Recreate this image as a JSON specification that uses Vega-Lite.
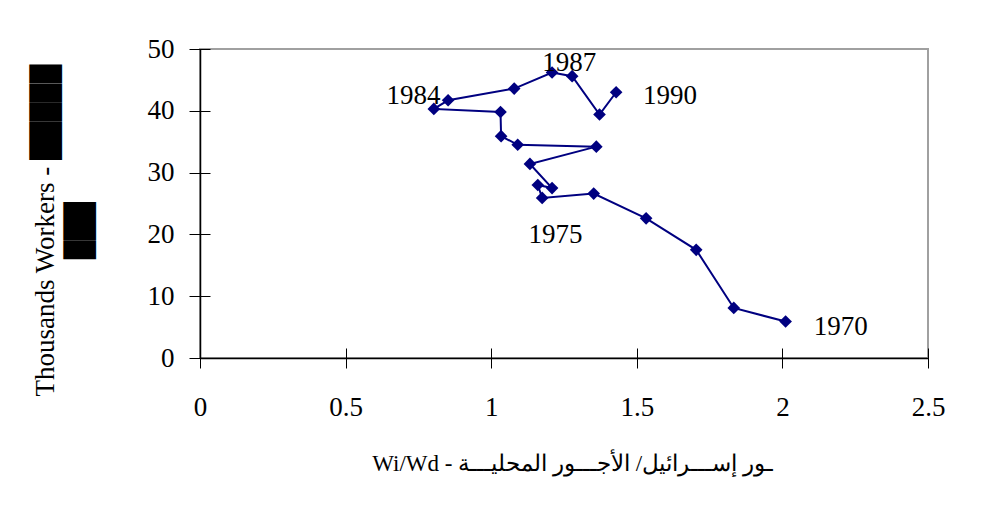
{
  "$schema": "https://vega.github.io/schema/vega-lite/v6.json",
  "autosize": "none",
  "width": 728,
  "height": 309,
  "padding": {"left": 200, "top": 49, "right": 77, "bottom": 150},
  "background": "white",
  "datasets": {
    "series": [
      {"year": 1970, "wage_ratio": 2.011, "workers": 5.9},
      {"year": 1971, "wage_ratio": 1.833, "workers": 8.1},
      {"year": 1972, "wage_ratio": 1.704, "workers": 17.5},
      {"year": 1973, "wage_ratio": 1.532, "workers": 22.6},
      {"year": 1974, "wage_ratio": 1.352, "workers": 26.6},
      {"year": 1975, "wage_ratio": 1.175, "workers": 25.9},
      {"year": 1976, "wage_ratio": 1.160, "workers": 28.0},
      {"year": 1977, "wage_ratio": 1.209, "workers": 27.5},
      {"year": 1978, "wage_ratio": 1.133, "workers": 31.4},
      {"year": 1979, "wage_ratio": 1.361, "workers": 34.2},
      {"year": 1980, "wage_ratio": 1.091, "workers": 34.5},
      {"year": 1981, "wage_ratio": 1.034, "workers": 35.9},
      {"year": 1982, "wage_ratio": 1.032, "workers": 39.8},
      {"year": 1983, "wage_ratio": 0.803, "workers": 40.3},
      {"year": 1984, "wage_ratio": 0.852, "workers": 41.7},
      {"year": 1985, "wage_ratio": 1.079, "workers": 43.6},
      {"year": 1986, "wage_ratio": 1.209, "workers": 46.2},
      {"year": 1987, "wage_ratio": 1.278, "workers": 45.6},
      {"year": 1988, "wage_ratio": 1.372, "workers": 39.4},
      {"year": 1989, "wage_ratio": 1.429, "workers": 43.0}
    ],
    "labels": [
      {"label": "1970", "x": 2.2, "y": 3.8},
      {"label": "1975", "x": 1.221, "y": 18.6},
      {"label": "1984", "x": 0.733, "y": 41.1},
      {"label": "1987", "x": 1.268, "y": 46.5},
      {"label": "1990", "x": 1.614, "y": 41.1}
    ]
  },
  "config": {
    "view": {"stroke": "#a0a0a0", "strokeWidth": 2},
    "axis": {
      "grid": false,
      "domainColor": "#000000",
      "tickColor": "#000000",
      "labelColor": "#000000",
      "titleColor": "#000000",
      "labelFont": "Liberation Serif",
      "titleFont": "Liberation Serif",
      "labelFontSize": 27,
      "titleFontWeight": "normal"
    }
  },
  "layer": [
    {
      "data": {"name": "series"},
      "mark": {
        "type": "line",
        "color": "#000080",
        "strokeWidth": 2,
        "point": {"shape": "diamond", "size": 160, "filled": true, "color": "#000080", "opacity": 1}
      },
      "encoding": {
        "x": {
          "field": "wage_ratio",
          "type": "quantitative",
          "scale": {"domain": [0, 2.5], "nice": false, "zero": false},
          "axis": {
            "orient": "bottom",
            "values": [0, 0.5, 1, 1.5, 2, 2.5],
            "format": "~g",
            "ticks": false,
            "tickSize": 0,
            "labelPadding": 36,
            "labelFlush": false,
            "labelOverlap": false,
            "domainWidth": 1.5,
            "title": "Wi/Wd - ـور إســـرائيل/ الأجـــور المحليـــة",
            "titleFontSize": 23,
            "titleX": 372,
            "titleY": 112,
            "titleBaseline": "alphabetic",
            "titleAlign": "center"
          }
        },
        "y": {
          "field": "workers",
          "type": "quantitative",
          "scale": {"domain": [0, 50], "nice": false},
          "axis": {
            "orient": "left",
            "values": [0, 10, 20, 30, 40, 50],
            "ticks": false,
            "tickSize": 0,
            "labelPadding": 26,
            "labelFlush": false,
            "labelOverlap": false,
            "domainWidth": 1.5,
            "title": ["Thousands Workers - █████", "███"],
            "titleFontSize": 27,
            "titleAngle": 270,
            "titleAlign": "center",
            "titleBaseline": "top",
            "titleX": -168,
            "titleY": 181,
            "titleLineHeight": 34
          }
        },
        "order": {"field": "year", "type": "quantitative"}
      }
    },
    {
      "data": {"name": "labels"},
      "mark": {"type": "text", "font": "Liberation Serif", "fontSize": 27, "baseline": "alphabetic", "align": "center", "color": "#000000"},
      "encoding": {
        "x": {
          "field": "x",
          "type": "quantitative",
          "scale": {"domain": [0, 2.5], "nice": false, "zero": false},
          "axis": {"orient": "bottom", "offset": -10, "tickSize": 20, "domain": false, "labels": false, "title": null, "values": [0, 0.5, 1, 1.5, 2, 2.5]}
        },
        "y": {
          "field": "y",
          "type": "quantitative",
          "scale": {"domain": [0, 50], "nice": false},
          "axis": {"orient": "left", "offset": -10, "tickSize": 21, "domain": false, "labels": false, "title": null, "values": [0, 10, 20, 30, 40, 50]}
        },
        "text": {"field": "label", "type": "nominal"}
      }
    }
  ],
  "resolve": {"axis": {"x": "independent", "y": "independent"}}
}
